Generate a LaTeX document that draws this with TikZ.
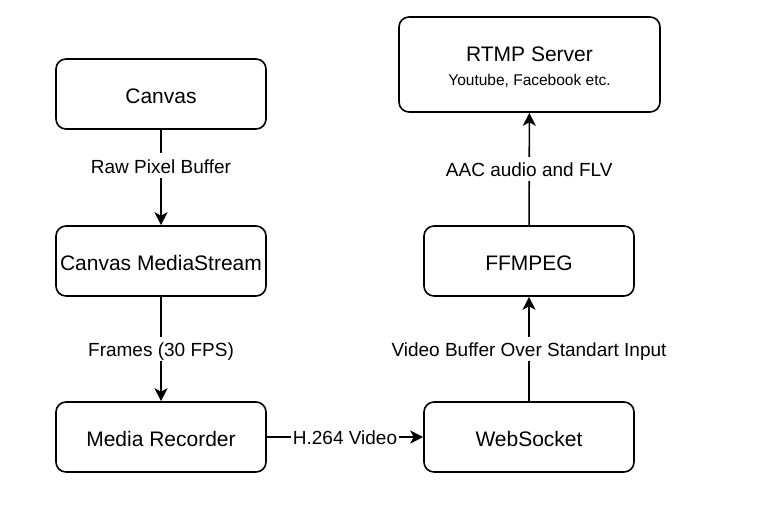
\documentclass[tikz,border=0pt]{standalone}
\usepackage{fontspec}
\setmainfont{Liberation Sans}
\usetikzlibrary{arrows.meta}
\tikzset{
  box/.style={draw=black, line width=1.6pt, rounded corners=10pt, fill=white,
    minimum width=210pt, minimum height=70pt, inner sep=0pt,
    text height=19pt, text depth=0pt,
    font=\fontsize{21}{25}\selectfont},
  lbl/.style={fill=white, inner sep=1.5pt, text height=18.6pt, text depth=3pt,
    font=\fontsize{19}{22}\selectfont},
  conn/.style={line width=1.6pt, -{Stealth[length=13pt,width=13pt,inset=3.5pt]}},
}
\begin{document}
\begin{tikzpicture}[x=1pt,y=-1pt]
\useasboundingbox (0,0) rectangle (762,515);
\node[box] (canvas) at (161,94) {Canvas};
\node[box] (stream) at (161,261) {Canvas MediaStream};
\node[box] (rec) at (161,437) {Media Recorder};
\node[box] (ws) at (529,437) {WebSocket};
\node[box] (ff) at (529,261) {FFMPEG};
\node[box, minimum width=261pt, minimum height=95pt] (rtmp) at (529.5,64.5) {};
\node[font=\fontsize{21}{25}\selectfont, inner sep=0pt] (rtmpt) at (529.5,54) {RTMP Server};
\node[font=\fontsize{15.5}{18}\selectfont, inner sep=0pt] (rtmps) at (529.5,81) {Youtube, Facebook etc.};
\draw[conn] (canvas) -- node[lbl, pos=0.375] (l1) {Raw Pixel Buffer} (stream);
\draw[conn] (stream) -- node[lbl] (l2) {Frames (30 FPS)} (rec);
\draw[conn] (rec) -- node[lbl] (l3) {H.264 Video} (ws);
\draw[conn] (ws) -- node[lbl] (l4) {Video Buffer Over Standart Input} (ff);
\draw[conn] (ff) -- node[lbl] (l5) {AAC audio and FLV} (rtmp);
\end{tikzpicture}
\end{document}
